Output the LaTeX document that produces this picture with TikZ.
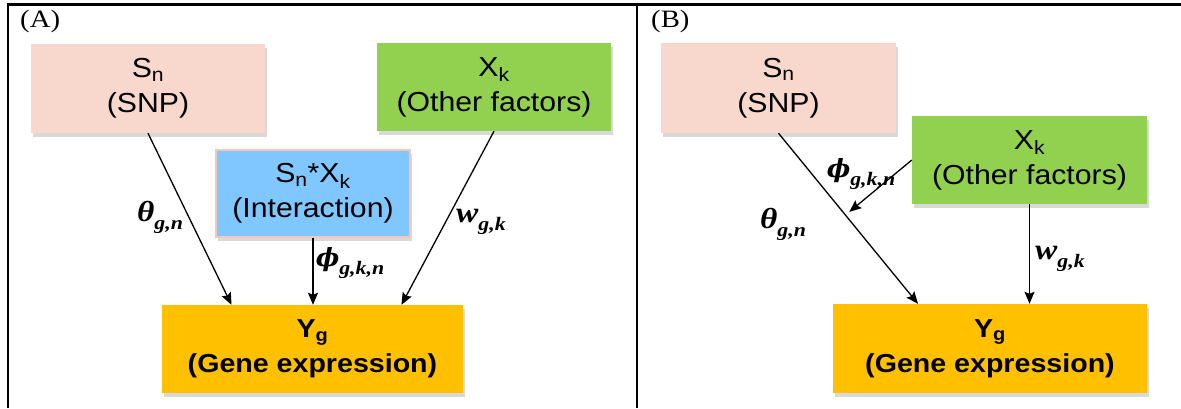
\documentclass[tikz,border=0pt]{standalone}
\usepackage{fontspec}
\usepackage{tikz}
\usetikzlibrary{arrows.meta, shadows}
\setmainfont{Liberation Sans}[FakeStretch=1.1]
\newfontfamily\tnr{Liberation Serif}[FakeStretch=1.15]
\newfontfamily\dvs{DejaVu Serif}

\definecolor{snpcol}{RGB}{248,216,204}
\definecolor{othercol}{RGB}{146,208,80}
\definecolor{intercol}{RGB}{128,199,255}
\definecolor{interline}{RGB}{244,200,184}
\definecolor{genecol}{RGB}{255,192,0}

\newcommand{\sub}[1]{\raisebox{-8pt}{\fontsize{19}{20}\selectfont #1}}
\newcommand{\vphi}{{\dvs\fontsize{25}{28}\selectfont\bfseries\itshape ϕ}}

\tikzset{
  box/.style={rectangle, inner sep=0pt, align=center, font=\fontsize{27.5}{35}\selectfont,
    drop shadow={shadow xshift=1.5pt, shadow yshift=-4pt, opacity=0.3}},
  coef/.style={inner sep=0pt, font=\tnr\fontsize{29}{30}\selectfont\bfseries\itshape},
  panel/.style={inner sep=0pt, anchor=north west, font=\tnr\fontsize{25}{28}\selectfont},
  link/.style={line width=1.3pt, ->}
}

\begin{document}
\begin{tikzpicture}[x=1pt, y=-1pt, >={Stealth[length=12pt, width=10pt, inset=2pt]}]

\useasboundingbox (0,0) rectangle (1181,408);

\draw[line width=2.5pt] (8,408) -- (8,4.5) -- (1181,4.5);
\draw[line width=2.5pt] (637,4.5) -- (637,408);

\node[panel] (labA) at (20,10) {(A)};
\node[panel] (labB) at (651,10) {(B)};

% panel A
\node[box, fill=snpcol, minimum width=234pt, minimum height=89pt] (snpA) at (148,88.5) {S\textsubscript{n}\\(SNP)};
\node[box, fill=othercol, minimum width=234pt, minimum height=88pt] (otherA) at (494,87) {X\textsubscript{k}\\(Other factors)};
\node[box, fill=intercol, draw=interline, line width=1.5pt, minimum width=194pt, minimum height=87pt] (interA) at (313,193.5) {S\textsubscript{n}*X\textsubscript{k}\\(Interaction)};
\node[box, fill=genecol, font=\fontsize{26}{35}\selectfont\bfseries, minimum width=301pt, minimum height=88pt] (geneA) at (312.5,349) {Y\textsubscript{g}\\(Gene expression)};

\draw[link] (snpA.south) -- ([xshift=-81pt]geneA.north);
\draw[link] (interA.south) -- (interA.south |- geneA.north);
\draw[link] (otherA.south) -- ([xshift=89pt]geneA.north);

\node[coef] (thetaA) at (160,217) {θ\sub{g,n}};
\node[coef] (phiA) at (350,263) {\vphi\sub{g,k,n}};
\node[coef] (wA) at (481,222) {w\sub{g,k}};

% panel B
\node[box, fill=snpcol, minimum width=235pt, minimum height=90pt] (snpB) at (778.5,88) {S\textsubscript{n}\\(SNP)};
\node[box, fill=othercol, minimum width=235pt, minimum height=88pt] (otherB) at (1029.5,160) {X\textsubscript{k}\\(Other factors)};
\node[box, fill=genecol, font=\fontsize{26}{35}\selectfont\bfseries, minimum width=314pt, minimum height=89pt] (geneB) at (990,348.5) {Y\textsubscript{g}\\(Gene expression)};

\draw[link] (snpB.south) -- ([xshift=-72pt]geneB.north) coordinate[pos=0.48] (meet);
\draw[link, shorten >=5pt] (otherB.west) -- (meet);
\draw[link] (otherB.south) -- (otherB.south |- geneB.north);

\node[coef] (thetaB) at (783,224) {θ\sub{g,n}};
\node[coef] (phiB) at (861,174) {\vphi\sub{g,k,n}};
\node[coef] (wB) at (1060,259) {w\sub{g,k}};

\end{tikzpicture}
\end{document}
